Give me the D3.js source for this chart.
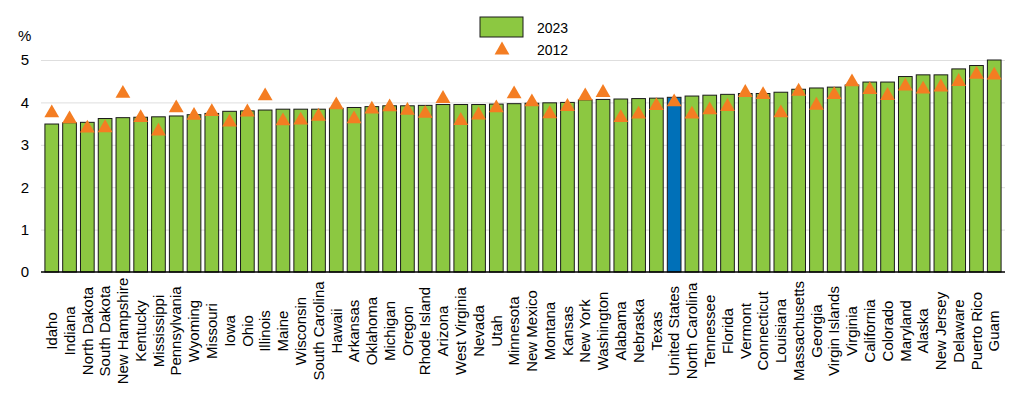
<!DOCTYPE html>
<html>
<head>
<meta charset="utf-8">
<script src="https://cdn.jsdelivr.net/npm/d3@7"></script>
<style>
  body { margin: 0; background: #fff; }
  svg text { font-family: "Liberation Sans", Arial, sans-serif; fill: #000; }
</style>
</head>
<body>
<svg id="chart"></svg>
<script>
// categories, sorted by 2023 value
var states = ["Idaho", "Indiana", "North Dakota", "South Dakota", "New Hampshire", "Kentucky",
  "Mississippi", "Pennsylvania", "Wyoming", "Missouri", "Iowa", "Ohio", "Illinois", "Maine",
  "Wisconsin", "South Carolina", "Hawaii", "Arkansas", "Oklahoma", "Michigan", "Oregon",
  "Rhode Island", "Arizona", "West Virginia", "Nevada", "Utah", "Minnesota", "New Mexico",
  "Montana", "Kansas", "New York", "Washington", "Alabama", "Nebraska", "Texas", "United States",
  "North Carolina", "Tennessee", "Florida", "Vermont", "Connecticut", "Louisiana", "Massachusetts",
  "Georgia", "Virgin Islands", "Virginia", "California", "Colorado", "Maryland", "Alaska",
  "New Jersey", "Delaware", "Puerto Rico", "Guam"];

var values2023 = [3.49, 3.52, 3.53, 3.62, 3.64, 3.65, 3.66, 3.68, 3.71, 3.74, 3.79, 3.80, 3.82, 3.84,
  3.84, 3.84, 3.86, 3.88, 3.90, 3.92, 3.92, 3.93, 3.95, 3.95, 3.95, 3.96, 3.97, 3.98,
  3.99, 4.00, 4.06, 4.07, 4.08, 4.09, 4.10, 4.12, 4.15, 4.17, 4.19, 4.21, 4.21, 4.24,
  4.31, 4.34, 4.36, 4.41, 4.48, 4.48, 4.61, 4.65, 4.65, 4.79, 4.87, 5.00];

var values2012 = [3.80, 3.66, 3.44, 3.45, 4.26, 3.69, 3.37, 3.92, 3.74, 3.83, 3.58, 3.82, 4.20, 3.61,
  3.63, 3.72, 3.99, 3.66, 3.89, 3.94, 3.86, 3.79, 4.14, 3.62, 3.75, 3.92, 4.25, 4.06,
  3.78, 3.95, 4.20, 4.28, 3.69, 3.77, 3.97, 4.06, 3.77, 3.87, 3.95, 4.28, 4.23, 3.80,
  4.31, 3.98, 4.23, 4.53, 4.35, 4.21, 4.43, 4.36, 4.41, 4.54, 4.71, 4.69];

var yTicks = [0, 1, 2, 3, 4, 5];
var legendLabels = ["2023", "2012"];
var highlight = "United States";

var W = 1024, H = 412;
var margin = {top: 60, right: 19, bottom: 140, left: 41};
var width = W - margin.left - margin.right;
var height = H - margin.top - margin.bottom;

var svg = d3.select("#chart").attr("width", W).attr("height", H);
var g = svg.append("g").attr("transform", "translate(" + margin.left + "," + margin.top + ")");

var data = states.map(function(s, i) { return {name: s, v23: values2023[i], v12: values2012[i]}; });

var x = d3.scaleBand().domain(states).range([0, width]).paddingInner(0.23).paddingOuter(0.22);
var y = d3.scaleLinear().domain([0, 5]).range([height, 0]);

// gridlines
g.append("g")
  .call(d3.axisLeft(y).tickValues(yTicks.slice(1)).tickSize(-width).tickFormat(""))
  .call(function(a) {
    a.select(".domain").remove();
    a.selectAll("line").attr("stroke", "#dedede").attr("stroke-width", 1);
  });

// y tick labels
g.append("g")
  .call(d3.axisLeft(y).tickValues(yTicks).tickSize(0).tickPadding(12).tickFormat(d3.format("d")))
  .call(function(a) {
    a.select(".domain").remove();
    a.selectAll("text").style("font-size", "15px");
  });

svg.append("text").attr("x", 18).attr("y", 41).style("font-size", "15px").text("%");

// bars 2023
g.selectAll(".bar").data(data).enter().append("rect")
  .attr("class", "bar")
  .attr("x", function(d) { return x(d.name); })
  .attr("y", function(d) { return y(d.v23); })
  .attr("width", x.bandwidth())
  .attr("height", function(d) { return height - y(d.v23); })
  .attr("fill", function(d) { return d.name == highlight ? "#0070b8" : "#8cc841"; })
  .attr("stroke", "#1a1a1a")
  .attr("stroke-width", 1);

// baseline
g.append("line").attr("x1", 0).attr("x2", width).attr("y1", height).attr("y2", height)
  .attr("stroke", "#000").attr("stroke-width", 1.5);

// triangle centred on its bounding box (not the centroid)
var boxTriangle = {
  draw: function(context, size) {
    var s = Math.sqrt(size * 4 / Math.sqrt(3));
    var h = s * Math.sqrt(3) / 2;
    context.moveTo(0, -h / 2);
    context.lineTo(s / 2, h / 2);
    context.lineTo(-s / 2, h / 2);
    context.closePath();
  }
};
var tri = d3.symbol().type(boxTriangle).size(95);
g.selectAll(".tri").data(data).enter().append("path")
  .attr("class", "tri")
  .attr("d", tri)
  .attr("fill", "#f47d22")
  .attr("transform", function(d) {
    return "translate(" + (x(d.name) + x.bandwidth() / 2) + "," + y(d.v12) + ")";
  });

// x labels
g.append("g")
  .attr("transform", "translate(0," + height + ")")
  .call(d3.axisBottom(x).tickSize(0).tickPadding(0))
  .call(function(a) {
    a.select(".domain").remove();
    a.selectAll("text")
      .style("font-size", "15px")
      .attr("text-anchor", "middle")
      .attr("dy", "0.35em")
      .attr("transform", "translate(0,59) rotate(-90)")
      .attr("y", 0).attr("x", 0);
  });

// legend
var leg = svg.append("g");
leg.append("rect").attr("x", 480).attr("y", 17).attr("width", 43).attr("height", 20)
  .attr("fill", "#8cc841").attr("stroke", "#1a1a1a").attr("stroke-width", 1);
leg.append("text").attr("x", 537).attr("y", 33).style("font-size", "14px").text(legendLabels[0]);
leg.append("path").attr("d", tri).attr("fill", "#f47d22").attr("transform", "translate(502,48)");
leg.append("text").attr("x", 537).attr("y", 55).style("font-size", "14px").text(legendLabels[1]);
</script>
</body>
</html>
